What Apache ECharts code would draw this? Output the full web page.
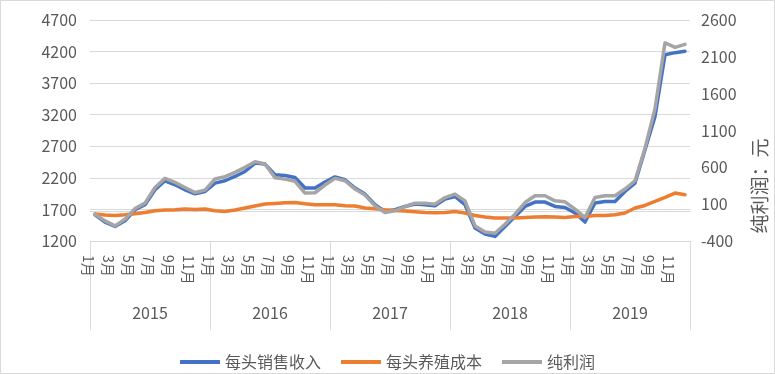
<!DOCTYPE html>
<html><head><meta charset="utf-8">
<script src="https://cdn.jsdelivr.net/npm/echarts@6/dist/echarts.min.js"></script>
<style>html,body{margin:0;padding:0;background:#fff}#c{width:775px;height:374px}</style>
</head><body><div id="c"></div>
<script>
const years = ['2015','2016','2017','2018','2019'];
const monthNames = ['1月','2月','3月','4月','5月','6月','7月','8月','9月','10月','11月','12月'];
const seriesNames = ['每头销售收入','每头养殖成本','纯利润'];
const revenue = [
  1616,1500,1431,1521,1695,1774,2011,2154,2090,2011,1948,1984,
  2117,2154,2222,2301,2434,2418,2249,2237,2206,2040,2040,2133,
  2215,2170,2038,1943,1774,1668,1695,1747,1785,1774,1758,1864,
  1905,1774,1406,1311,1273,1431,1589,1747,1817,1817,1747,1731,
  1643,1500,1801,1826,1826,1984,2117,2644,3171,4151,4183,4205
];
const cost = [
  1627,1611,1605,1616,1632,1652,1679,1690,1695,1706,1700,1706,
  1679,1668,1690,1722,1753,1785,1795,1806,1811,1790,1774,1774,
  1774,1758,1753,1722,1711,1695,1684,1674,1663,1652,1648,1652,
  1668,1643,1605,1580,1564,1564,1564,1574,1580,1584,1580,1574,
  1589,1589,1605,1605,1616,1643,1722,1763,1826,1890,1959,1932
];
const profit = [
  -36,-127,-195,-104,40,114,327,450,395,327,259,291,
  441,473,531,600,677,646,460,440,410,250,255,360,
  450,418,305,223,77,-14,9,68,114,114,100,190,
  237,145,-195,-277,-295,-172,-36,122,214,214,145,132,
  32,-82,190,214,214,305,418,860,1396,2291,2228,2269
];
const leftAxis = {min:1200, max:4700, interval:500};
const rightAxis = {min:-400, max:2600, interval:500};
const rightAxisName = '纯利润：元';

const categories = [];
years.forEach(y => monthNames.forEach(m => categories.push(y + '|' + m)));

const FONT = '"Noto Sans CJK SC", "Noto Sans", sans-serif';
const TXT = '#595959';
const GRID = '#d9d9d9';
const colors = ['#4472C4','#ED7D31','#A5A5A5'];

const chart = echarts.init(document.getElementById('c'), null, {renderer:'canvas'});
chart.setOption({
  animation:false,
  textStyle:{fontFamily:FONT},
  color:colors,
  grid:{left:90, right:85, top:20, bottom:133, containLabel:false},
  legend:{
    data:seriesNames, left:'center', top:349, icon:'rect',
    itemWidth:40, itemHeight:4, itemGap:20,
    textStyle:{fontSize:16, color:TXT, fontFamily:FONT}
  },
  xAxis:[
    {type:'category', data:categories, boundaryGap:true, position:'bottom',
     axisLine:{show:true, lineStyle:{color:GRID, width:1}},
     axisTick:{show:false},
     axisLabel:{interval:1, rotate:-90, fontSize:14, color:TXT, margin:14, verticalAlign:'top',
       formatter:v => v.split('|')[1]}},
    {type:'category', data:years, boundaryGap:true, position:'bottom', offset:0,
     axisLine:{show:false},
     axisTick:{show:true, length:89, interval:0, lineStyle:{color:GRID, width:1}},
     axisLabel:{interval:0, fontSize:16, color:TXT, margin:64}}
  ],
  yAxis:[
    {type:'value', min:leftAxis.min, max:leftAxis.max, interval:leftAxis.interval, position:'left',
     axisLine:{show:false}, axisTick:{show:false},
     splitLine:{show:true, lineStyle:{color:GRID, width:1}},
     axisLabel:{fontSize:16, color:TXT, margin:13, formatter:v => String(v)}},
    {type:'value', min:rightAxis.min, max:rightAxis.max, interval:rightAxis.interval, position:'right',
     axisLine:{show:false}, axisTick:{show:false}, splitLine:{show:false},
     axisLabel:{fontSize:16, color:TXT, margin:11, formatter:v => String(v)}}
  ],
  series:[
    {name:seriesNames[0], type:'line', data:revenue, xAxisIndex:0, yAxisIndex:0, symbol:'none',
     lineStyle:{width:3.5, color:colors[0], cap:'round', join:'round'}},
    {name:seriesNames[1], type:'line', data:cost, xAxisIndex:0, yAxisIndex:0, symbol:'none',
     lineStyle:{width:3.5, color:colors[1], cap:'round', join:'round'}},
    {name:seriesNames[2], type:'line', data:profit, xAxisIndex:0, yAxisIndex:1, symbol:'none',
     lineStyle:{width:3.5, color:colors[2], cap:'round', join:'round'}}
  ],
  graphic:[
    {type:'rect', shape:{x:0.5, y:0.5, width:774, height:373}, style:{fill:'none', stroke:GRID, lineWidth:1}, silent:true},
    {type:'text', x:760, y:186, rotation:Math.PI/2,
     style:{text:rightAxisName, fontSize:19, fill:TXT, fontFamily:FONT, textAlign:'center', textVerticalAlign:'middle'}}
  ]
});
</script></body></html>
